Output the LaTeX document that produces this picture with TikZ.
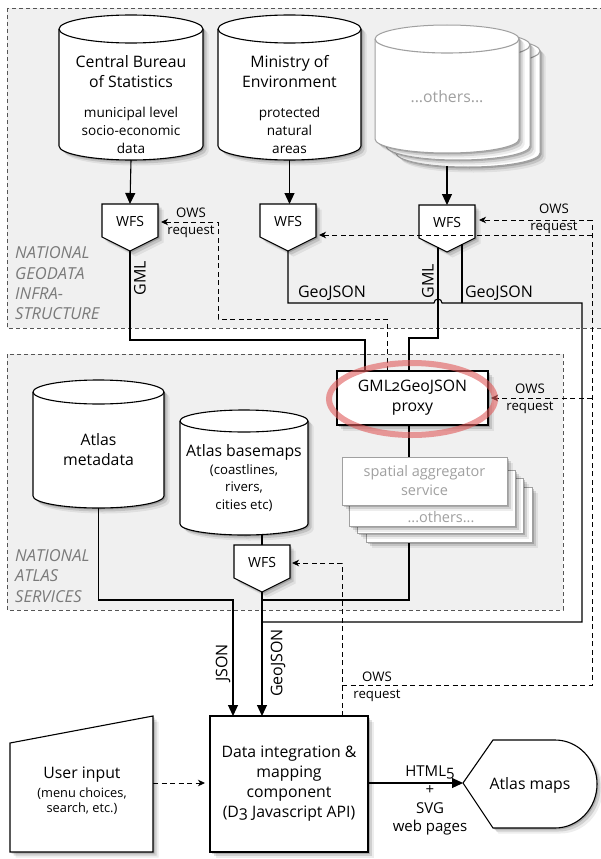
\documentclass[tikz,border=0pt]{standalone}
\usepackage{fontspec}
\setmainfont{Open Sans}[Numbers=OldStyle]
\usetikzlibrary{arrows.meta,shadows}
\definecolor{framefill}{HTML}{F0F0F0}
\definecolor{framedash}{HTML}{555555}
\definecolor{ghost}{HTML}{A0A0A0}
\definecolor{labelgray}{HTML}{7A7A7A}
\definecolor{ringred}{HTML}{E05A5A}
\tikzset{
  softshadow/.style={
    drop shadow={shadow xshift=1.5pt,shadow yshift=-1.5pt,opacity=.18,fill=black},
    drop shadow={shadow xshift=3.5pt,shadow yshift=-3.5pt,opacity=.12,fill=black},
    drop shadow={shadow xshift=5.5pt,shadow yshift=-5.5pt,opacity=.07,fill=black}},
  shapebox/.style={draw=black, fill=white, line width=1.1pt, softshadow},
  ghostbox/.style={draw=ghost, fill=white, line width=1pt, softshadow},
  frame/.style={draw=framedash, fill=framefill, dash pattern=on 4pt off 3pt, line width=0.9pt},
  flow/.style={draw=black, line width=1.1pt},
  flowarrow/.style={flow, -{Triangle[length=11pt,width=10pt]}},
  ows/.style={draw=black, line width=1pt, dash pattern=on 5pt off 3.5pt},
  owsarrow/.style={ows, -{Stealth[length=7pt,width=6.5pt,inset=2pt]}},
  bigtext/.style={font=\fontsize{15.8}{20}\selectfont, align=center, inner sep=0pt},
  smalltext/.style={font=\fontsize{13.6}{18}\selectfont, align=center, inner sep=0pt},
  wfstext/.style={font=\fontsize{14}{14}\selectfont, inner sep=0pt},
  owstext/.style={font=\fontsize{13.2}{17}\selectfont, align=center, inner sep=0pt},
  flowlabel/.style={font=\fontsize{16}{17}\selectfont, inner sep=0pt},
  framelabel/.style={font=\fontsize{16.5}{20.3}\selectfont\itshape, text=labelgray, align=left, inner sep=0pt},
  redring/.style={draw=ringred, opacity=.6, line width=6pt},
}
% #1 name, #2 fill style, #3 stroke colour, #4 x1, #5 x2, #6 ytop, #7 ybot, #8 ry
\newcommand\mycyl[8]{%
  \pgfmathsetmacro\myrx{(#5-#4)/2}%
  \path[#2] (#4,#6+#8) -- (#4,#7-#8) arc[start angle=180,end angle=0,x radius=\myrx,y radius=#8]
     -- (#5,#6+#8) arc[start angle=0,end angle=-180,x radius=\myrx,y radius=#8] -- cycle;
  \draw[#3, line width=1.1pt] (#4,#6+#8) arc[start angle=180,end angle=0,x radius=\myrx,y radius=#8];
  \coordinate (#1-bot) at ({(#4+#5)/2},#7);
}
% #1 name, #2 centre x, #3 top y
\newcommand\mywfs[3]{%
  \path[shapebox] (#2-28,#3) -- (#2+28,#3) -- (#2+28,#3+33) -- (#2,#3+47) -- (#2-28,#3+33) -- cycle;
  \node[wfstext] (#1) at (#2,#3+17) {WFS};
  \coordinate (#1-tip) at (#2,#3+47);
  \coordinate (#1-top) at (#2,#3);
}
\begin{document}
\begin{tikzpicture}[x=1pt,y=-1pt]
\useasboundingbox (0,0) rectangle (601,859);
\clip (0,0) rectangle (601,859);
\fill[white] (0,0) rectangle (601,859);
% frames
\path[frame] (7,8) rectangle (612,328);
\path[frame] (7,354) rectangle (563,610);
\node[framelabel, anchor=west] (lblgeo) at (15,283.5) {NATIONAL\\GEODATA\\INFRA-\\STRUCTURE};
\node[framelabel, anchor=west] (lblatlas) at (15,576) {NATIONAL\\ATLAS\\SERVICES};

% source cylinders
\mycyl{cbs}{shapebox}{black}{59}{203}{15}{160}{14}
\node[bigtext] (cbsT) at (131,72) {Central Bureau\\of Statistics};
\node[smalltext] (cbsS) at (131,130) {municipal level\\socio-economic\\data};
\mycyl{moe}{shapebox}{black}{218}{361}{15}{160}{14}
\node[bigtext] (moeT) at (289.5,72) {Ministry of\\Environment};
\node[smalltext] (moeS) at (289.5,130) {protected\\natural\\areas};
\mycyl{oth3}{ghostbox}{ghost}{396}{540}{37}{167}{14}
\mycyl{oth2}{ghostbox}{ghost}{386}{530}{31}{160}{14}
\mycyl{oth1}{ghostbox}{ghost}{375}{519}{25}{153}{14}
\node[bigtext, text=ghost] (othT) at (447,97) {...others...};
\coordinate (othbot) at (447,166);

% WFS services
\mywfs{wfsA}{130}{204}
\mywfs{wfsB}{288}{204}
\mywfs{wfsC}{447}{205}

\draw[flowarrow] (cbs-bot) -- (wfsA-top);
\draw[flowarrow] (moe-bot) -- (moe-bot |- wfsB-top);
\draw[flowarrow] (othbot) -- (wfsC-top);

% atlas services
\mycyl{meta}{shapebox}{black}{33}{164}{380}{508}{12}
\node[bigtext] (metaT) at (98.5,450) {Atlas\\metadata};
\mycyl{base}{shapebox}{black}{180}{308}{410}{535}{11}
\node[bigtext] (baseT) at (244,452) {Atlas basemaps};
\node[smalltext, font=\fontsize{13.2}{17.5}\selectfont] (baseS) at (244,488) {(coastlines,\\rivers,\\cities etc)};
\mywfs{wfsD}{262}{545}
\coordinate (basebot) at (262,535);
\draw[flow] (basebot) -- (wfsD-top);

% proxy
\node[shapebox, minimum width=151pt, minimum height=54pt, bigtext] (proxy) at (412.5,398) {GML2GeoJSON\\proxy};
\coordinate (pinA) at (365,371);
\coordinate (pinC) at (409,371);
\coordinate (pows) at (387,371);
\coordinate (pout) at (409,425);
\coordinate (pright) at (491,398);

% data integration, user, maps
\node[shapebox, minimum width=158pt, minimum height=136pt, bigtext] (dic) at (289,784) {Data integration \&\\mapping\\component\\(D3 Javascript API)};
\coordinate (dicJ) at (233,716);
\coordinate (dicG) at (262,716);
\coordinate (dicO) at (342,716);
\coordinate (dicW) at (205,783);
\coordinate (dicE) at (368,783);

\path[shapebox] (10,743) -- (153,716) -- (153,852) -- (10,852) -- cycle;
\node[bigtext] (userT) at (82,775) {User input};
\node[smalltext, font=\fontsize{12.8}{15.5}\selectfont] (userS) at (82,801) {(menu choices,\\search, etc.)};
\coordinate (userR) at (153,783);

\path[shapebox] (463,783) -- (493,740) -- (555,740) arc[start angle=-90,end angle=90,x radius=42,y radius=44] -- (493,828) -- cycle;
\node[bigtext] (maps) at (530,785) {Atlas maps};
\coordinate (mapsL) at (463,783);

% data flows
\coordinate (wfsCgml) at (438,247);
\coordinate (wfsCgeo) at (462,244);
\draw[flow] (wfsA-tip) |- (365,340) -- (pinA);
\draw[flow] (wfsB-tip) |- (434,303) arc[start angle=180,end angle=360,radius=4] -- (582,303) -- (582,622) -- (262,622);
\draw[flow] (wfsCgml) -- (438,338) -| (pinC);
\draw[flow] (wfsCgeo) -- (462,303);
\draw[flow] (pout) |- (262,600);
\draw[flowarrow] (meta-bot) |- (233,600) -- (dicJ);
\draw[flowarrow] (wfsD-tip) -- (dicG);
\draw[owsarrow] (userR) -- (dicW);
\draw[flowarrow] (dicE) -- (mapsL);

% spatial aggregator stack (drawn over the proxy output line)
\node[ghostbox, minimum width=166pt, minimum height=55pt] (agg4) at (449,514.5) {};
\node[ghostbox, minimum width=166pt, minimum height=55pt] (agg3) at (440,505.5) {};
\node[ghostbox, minimum width=166pt, minimum height=56pt] (agg2) at (432,498) {};
\node[bigtext, text=ghost, font=\fontsize{14.5}{19}\selectfont] (aggO) at (441,517) {...others...};
\node[ghostbox, minimum width=165pt, minimum height=48pt, text=ghost, font=\fontsize{14.5}{19}\selectfont, align=center, inner sep=0pt] (agg) at (424.5,481) {spatial aggregator\\service};

% OWS requests
\draw[owsarrow] (dicO) -- (342,563) -- (292,563);
\draw[ows] (342,685) -- (592,685) -- (592,220);
\draw[owsarrow] (592,235) -- (319,235);
\draw[owsarrow] (592,220) -- (479,220);
\draw[owsarrow] (592,398) -- (pright);
\draw[owsarrow] (pows) -- (387,319) -- (218,319) -- (218,222) -- (161,222);

% red highlight
\draw[redring] (412,399) ellipse [x radius=83, y radius=36];

% labels
\node[owstext] (owsA) at (191,222.5) {OWS\\request};
\node[owstext] (owsC) at (554,218.5) {OWS\\request};
\node[owstext] (owsP) at (530,399) {OWS\\request};
\node[owstext] (owsD) at (377,686.5) {OWS\\request};
\node[flowlabel, rotate=90] (lGMLa) at (140,278) {GML};
\node[flowlabel] (lGeoB) at (332,293) {GeoJSON};
\node[flowlabel, rotate=90] (lGMLc) at (428,281) {GML};
\node[flowlabel] (lGeoC) at (499,293) {GeoJSON};
\node[flowlabel, rotate=90] (lJSON) at (223,663) {JSON};
\node[flowlabel, rotate=90] (lGeoD) at (278,663) {GeoJSON};
\node[flowlabel, font=\fontsize{15}{18.5}\selectfont, align=center] (lhtml) at (430,800.5) {HTML5\\+\\SVG\\web pages};
\end{tikzpicture}
\end{document}
